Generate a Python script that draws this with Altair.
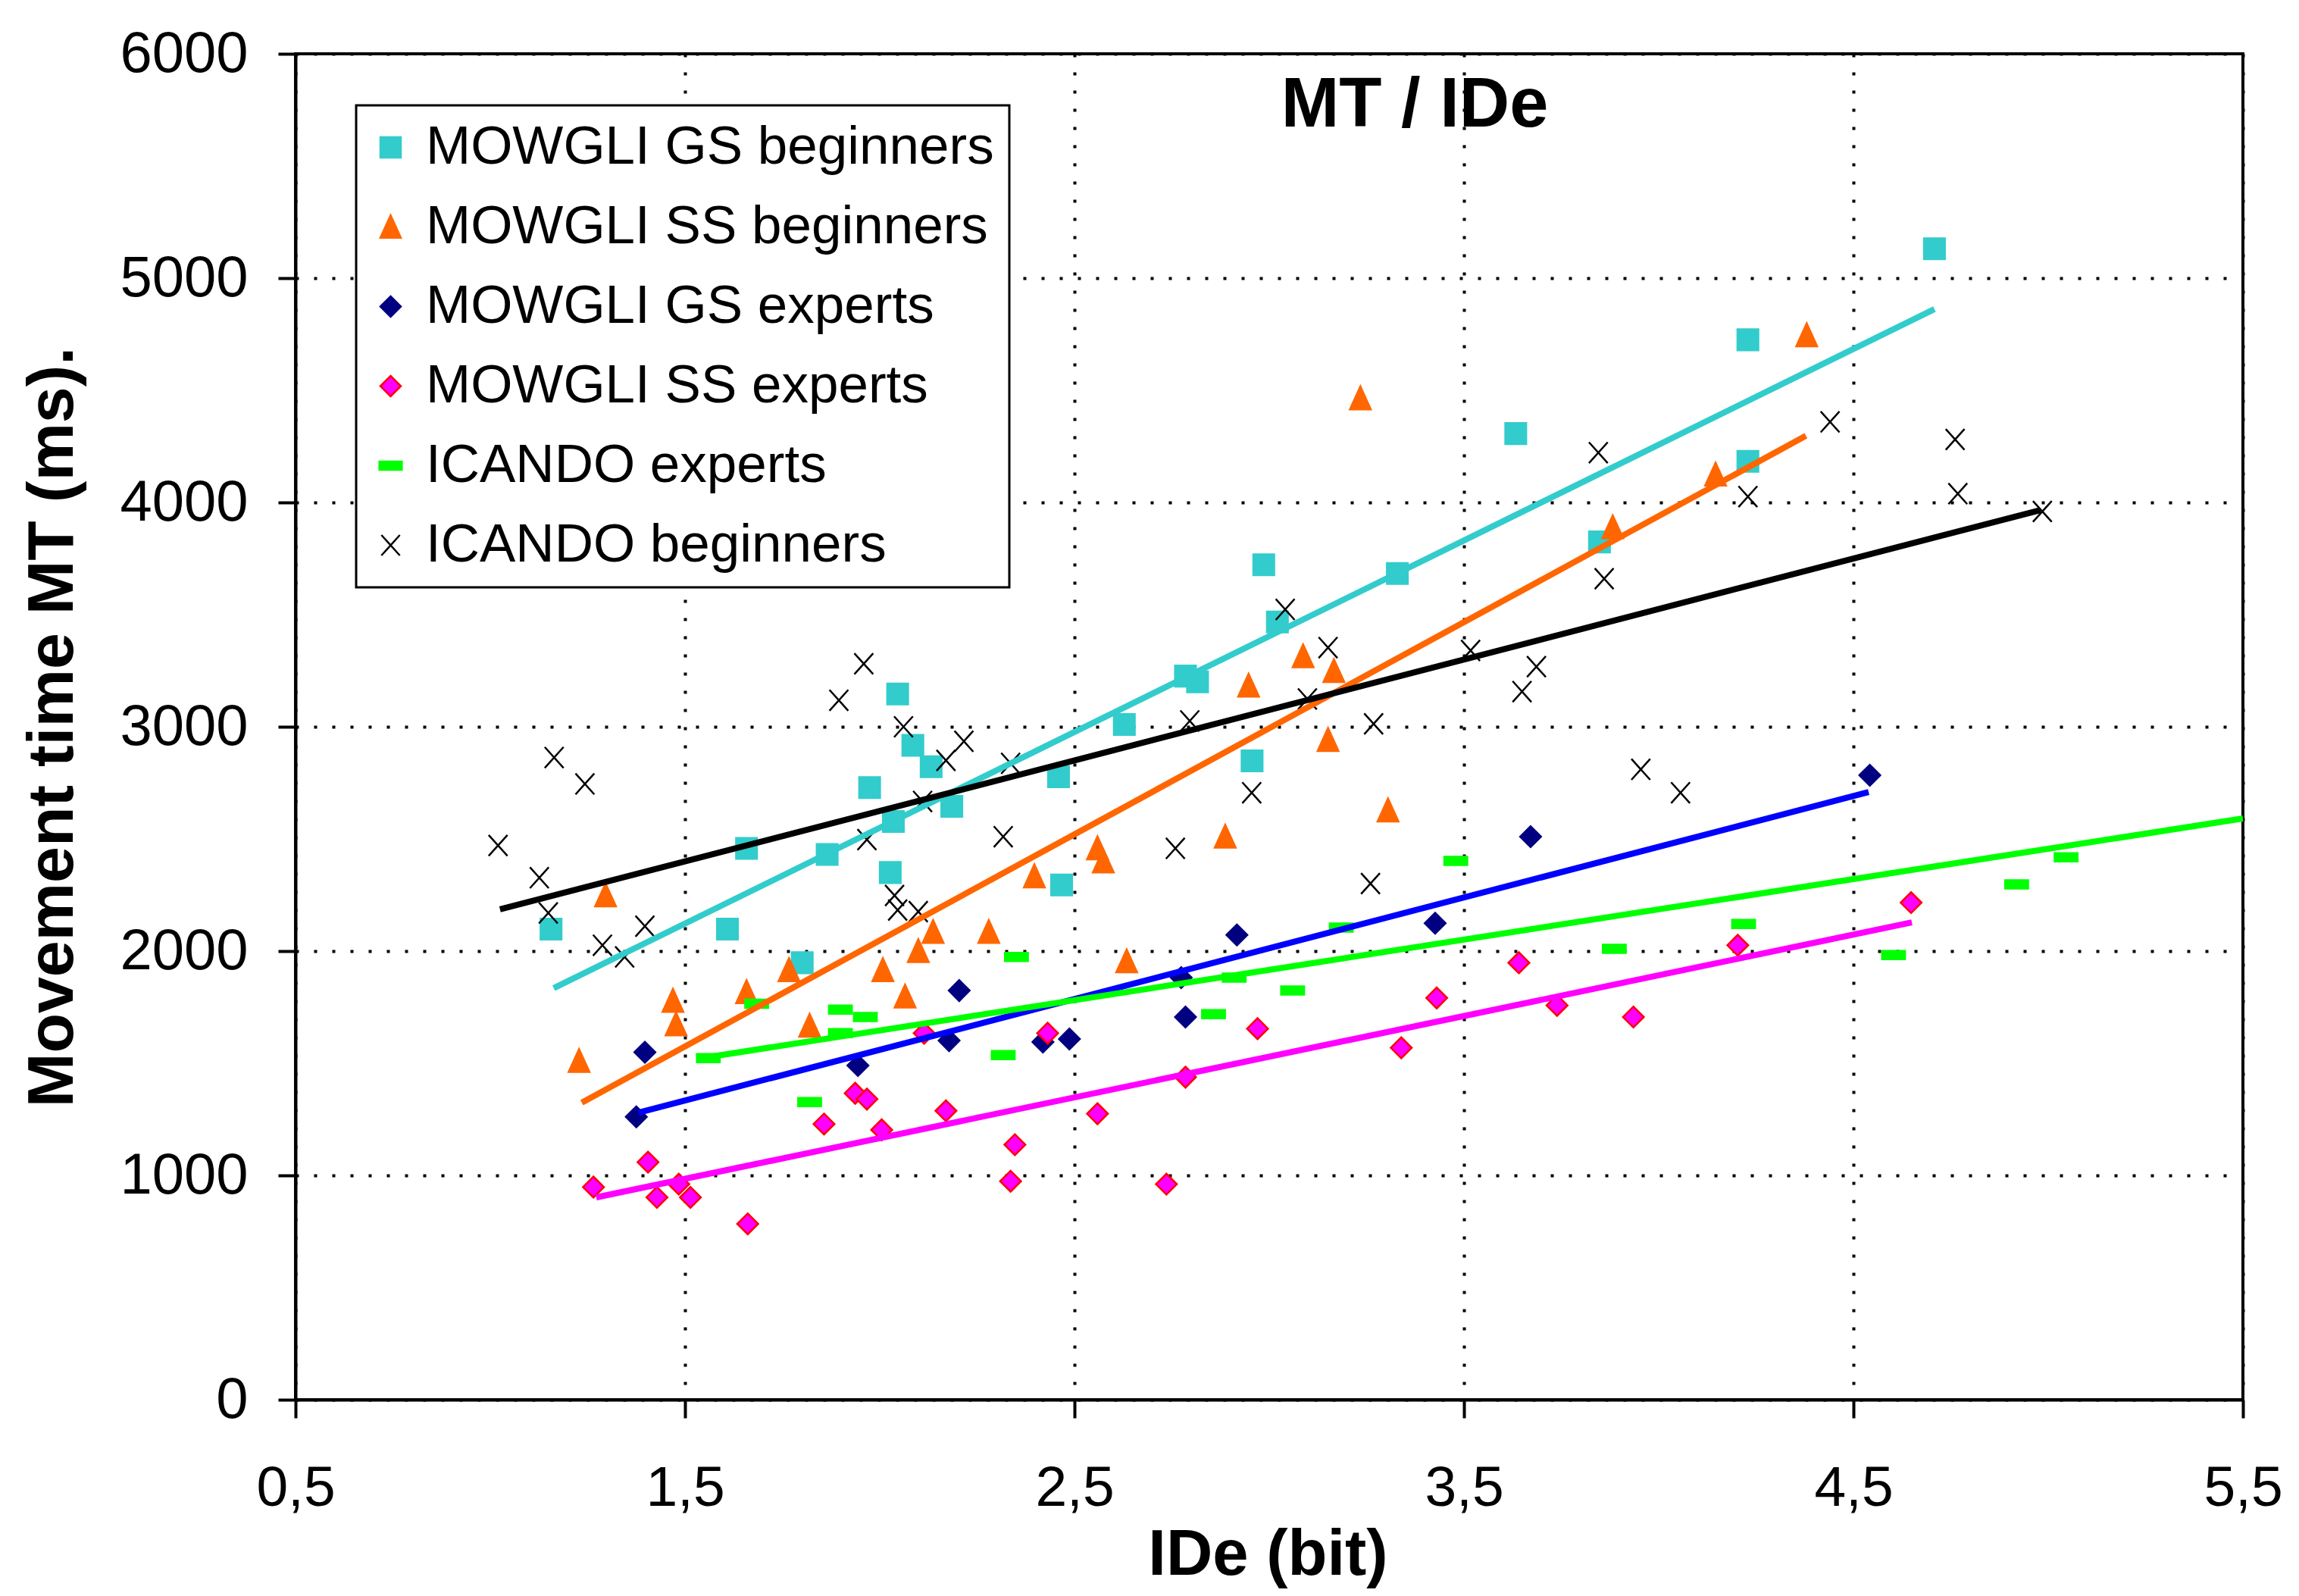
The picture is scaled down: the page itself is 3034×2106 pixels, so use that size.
import altair as alt
import pandas as pd

SERIES = ["MOWGLI GS beginners", "MOWGLI SS beginners", "MOWGLI GS experts",
          "MOWGLI SS experts", "ICANDO experts", "ICANDO beginners"]

gs_beg_x = [1.156, 1.609, 1.658, 1.865, 1.801, 1.974, 2.035, 2.027, 2.046, 2.085, 2.132,
            2.185, 2.459, 2.467, 2.628, 2.785, 2.816, 2.956, 2.986, 3.021, 3.329, 3.633,
            3.848, 4.229, 4.229, 4.708]
gs_beg_y = [2098, 2098, 2458, 2431, 1948, 2729, 2578, 2350, 3146, 2917, 2822,
            2645, 2777, 2295, 3010, 3226, 3200, 2848, 3722, 3467, 3683, 4307,
            3824, 4725, 4183, 5131]

ss_beg_x = [1.228, 1.296, 1.469, 1.477, 1.658, 1.767, 1.820, 2.008, 2.065, 2.099, 2.137,
            2.280, 2.397, 2.559, 2.574, 2.634, 2.887, 2.947, 3.087, 3.151, 3.166, 3.234,
            3.305, 3.882, 4.146, 4.380]
ss_beg_y = [1510, 2248, 1778, 1673, 1817, 1915, 1667, 1915, 1797, 2000, 2085,
            2085, 2333, 2458, 2399, 1954, 2510, 3183, 3314, 2941, 3248, 4464,
            2627, 3889, 4124, 4745]

gs_exp_x = [1.375, 1.397, 1.944, 2.178, 2.204, 2.419, 2.487, 2.774, 2.785, 2.917, 3.426,
            3.671, 4.542]
gs_exp_y = [1261, 1549, 1490, 1601, 1824, 1595, 1608, 1882, 1706, 2072, 2124,
            2510, 2784]

ss_exp_x = [1.265, 1.405, 1.428, 1.484, 1.514, 1.661, 1.857, 1.937, 1.967, 2.005, 2.114,
            2.170, 2.336, 2.347, 2.431, 2.559, 2.736, 2.785, 2.970, 3.339, 3.430, 3.641,
            3.739, 3.935, 4.203, 4.648]
ss_exp_y = [948, 1059, 902, 961, 902, 784, 1229, 1366, 1340, 1203, 1634,
            1288, 974, 1137, 1634, 1275, 961, 1438, 1654, 1569, 1791, 1948,
            1758, 1706, 2026, 2216]

ic_exp_x = [1.560, 1.684, 1.820, 1.899, 1.899, 1.963, 2.317, 2.351, 2.857, 2.910, 3.060,
            3.185, 3.479, 3.886, 4.218, 4.603, 4.919, 5.046]
ic_exp_y = [1523, 1765, 1327, 1739, 1634, 1706, 1536, 1974, 1719, 1882, 1824,
            2105, 2402, 2010, 2121, 1982, 2297, 2418]

ic_beg_x = [1.020, 1.126, 1.149, 1.164, 1.243, 1.288, 1.345, 1.397, 1.895, 1.959, 1.967,
            2.038, 2.046, 2.061, 2.099, 2.110, 2.170, 2.216, 2.317, 2.336, 2.759, 2.796,
            2.955, 3.041, 3.098, 3.151, 3.260, 3.268, 3.517, 3.649, 3.686, 3.845, 3.860,
            3.954, 4.056, 4.229, 4.440, 4.761, 4.768, 4.985]
ic_beg_y = [2471, 2327, 2170, 2863, 2745, 2026, 1974, 2111, 3118, 3281, 2497,
            2248, 2183, 3000, 2176, 2667, 2850, 2935, 2510, 2837, 2458, 3026,
            2706, 3523, 3124, 3353, 2301, 3013, 3340, 3157, 3268, 4222, 3660,
            2810, 2706, 4026, 4359, 4281, 4039, 3960]

# trend lines (end points)
trend_x0 = [1.163, 1.235, 1.381, 1.272, 1.558, 1.025]
trend_y0 = [1835, 1324, 1280, 902, 1527, 2186]
trend_x1 = [4.708, 4.378, 4.539, 4.650, 5.500, 4.980]
trend_y1 = [4862, 4297, 2709, 2128, 2591, 3966]

x_ticks = [0.5, 1.5, 2.5, 3.5, 4.5, 5.5]
y_ticks = [0, 1000, 2000, 3000, 4000, 5000, 6000]

fill_colors = ["#33CCCC", "#FF6600", "#000080", "#FF00FF", "#00FF00", "#000000"]
stroke_colors = ["#33CCCC", "#FF6600", "#000080", "#FF0000", "#00FF00", "#000000"]
line_colors = ["#33CCCC", "#FF6600", "#0000FF", "#FF00FF", "#00FF00", "#000000"]
shapes = ["square", "M0,-1.15L1,1.05L-1,1.05Z", "diamond", "diamond",
          "M-1.1,-0.4L1.1,-0.4L1.1,0.4L-1.1,0.4Z", "M-0.9,-1L0.9,1M-0.9,1L0.9,-1"]

xs = [gs_beg_x, ss_beg_x, gs_exp_x, ss_exp_x, ic_exp_x, ic_beg_x]
ys = [gs_beg_y, ss_beg_y, gs_exp_y, ss_exp_y, ic_exp_y, ic_beg_y]
rows = []
for s, xl, yl in zip(SERIES, xs, ys):
    for a, b in zip(xl, yl):
        rows.append({"series": s, "x": a, "y": b})
points = pd.DataFrame(rows)

lrows = []
for i, s in enumerate(SERIES):
    lrows.append({"series": s, "x": trend_x0[i], "y": trend_y0[i]})
    lrows.append({"series": s, "x": trend_x1[i], "y": trend_y1[i]})
lines = pd.DataFrame(lrows)

FONT = "Liberation Sans"

xscale = alt.Scale(domain=[0.5, 5.5], nice=False, zero=False)
yscale = alt.Scale(domain=[0, 6000], nice=False)

xaxis = alt.Axis(values=x_ticks, labelExpr="replace(format(datum.value, '.1f'), '.', ',')",
                 title="IDe (bit)", titleFont=FONT, titleFontSize=85, titleFontWeight="bold",
                 titleX=1283, titleY=230, titleBaseline="alphabetic", titleAlign="center",
                 labelFont=FONT, labelFontSize=75, labelColor="black", labelPadding=56,
                 tickSize=24, tickWidth=4, tickColor="black", domainColor="black", domainWidth=4,
                 grid=True, gridColor="black", gridDash=[4, 20], gridWidth=4, gridOpacity=1,
                 labelFlush=False)
yaxis = alt.Axis(values=y_ticks, format="d",
                 title="Movement time MT (ms).", titleFont=FONT, titleFontSize=86,
                 titleFontWeight="bold", titleX=-295, titleY=888, titleBaseline="alphabetic",
                 titleAlign="center", titleAngle=270,
                 labelFont=FONT, labelFontSize=76, labelColor="black", labelPadding=40,
                 tickSize=23, tickWidth=4, tickColor="black", domainColor="black", domainWidth=4,
                 grid=True, gridColor="black", gridDash=[4, 20], gridWidth=4, gridOpacity=1,
                 labelFlush=False)

legend = alt.Legend(title=None, orient="none", legendX=80, legendY=68, padding=20,
                    symbolOffset=-10, labelFont=FONT, labelFontSize=71, labelColor="black",
                    labelOffset=11, rowPadding=33, strokeColor="black", fillColor="white",
                    symbolSize=729, symbolStrokeWidth=2.5, labelLimit=2000)

pts = alt.Chart(points).mark_point(filled=True, size=760, strokeWidth=2.5, opacity=1).encode(
    x=alt.X("x:Q", scale=xscale, axis=xaxis),
    y=alt.Y("y:Q", scale=yscale, axis=yaxis),
    fill=alt.Fill("series:N", scale=alt.Scale(domain=SERIES, range=fill_colors), legend=legend),
    stroke=alt.Stroke("series:N", scale=alt.Scale(domain=SERIES, range=stroke_colors), legend=legend),
    shape=alt.Shape("series:N", scale=alt.Scale(domain=SERIES, range=shapes), legend=legend),
)

trend = alt.Chart(lines).mark_line(strokeWidth=8).encode(
    x=alt.X("x:Q", scale=xscale),
    y=alt.Y("y:Q", scale=yscale),
    color=alt.Color("series:N", scale=alt.Scale(domain=SERIES, range=line_colors), legend=None),
    detail="series:N",
)

title = alt.Chart(pd.DataFrame({"t": ["MT / IDe"]})).mark_text(
    font=FONT, fontSize=92, fontWeight="bold", align="center", baseline="alphabetic",
    color="black"
).encode(text="t:N", x=alt.value(1477), y=alt.value(96))

chart = alt.layer(pts, trend, title).properties(
    width=2570, height=1776,
    autosize=alt.AutoSizeParams(type="none"),
    padding={"left": 382, "top": 63, "right": 60, "bottom": 255},
).configure_view(stroke="black", strokeWidth=4).configure_legend(strokeWidth=3)

chart.save("out.html", embed_options={"renderer": "svg", "actions": False})
